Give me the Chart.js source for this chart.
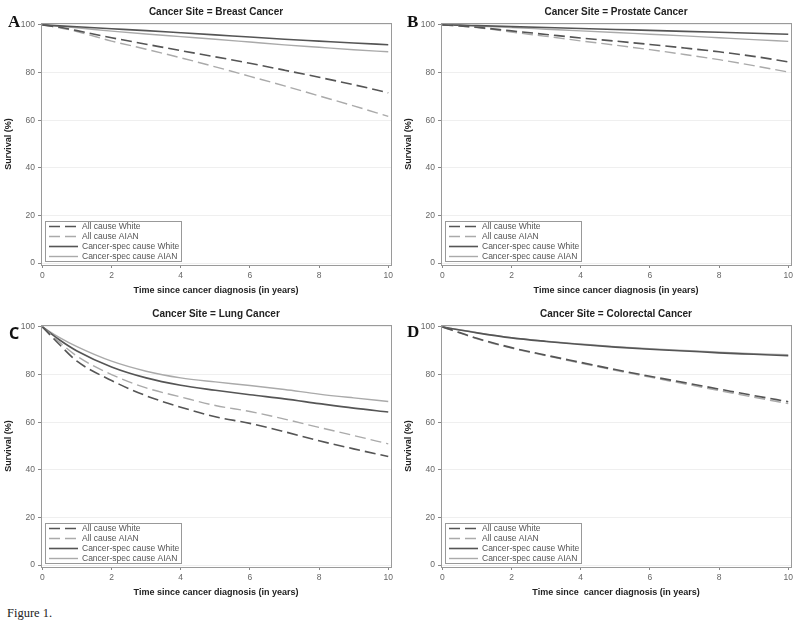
<!DOCTYPE html>
<html>
<head>
<meta charset="utf-8">
<title>Figure 1</title>
<script src="https://cdn.jsdelivr.net/npm/chart.js@4.4.1/dist/chart.umd.min.js"></script>
<style>
  html, body { margin: 0; padding: 0; background: #fff; }
  #page { position: relative; width: 800px; height: 622px; overflow: hidden; }
  .panel { position: absolute; width: 400px; height: 300px; }
  .panel canvas { display: block; }
  #caption { position: absolute; left: 7px; top: 606px; font-family: 'Liberation Serif', serif; font-size: 12.5px; line-height: 14px; color: #222; }
</style>
</head>
<body>
<div id="page">
  <div class="panel" style="left:0;top:0"><canvas id="chartA" width="400" height="300"></canvas></div>
  <div class="panel" style="left:400px;top:0"><canvas id="chartB" width="400" height="300"></canvas></div>
  <div class="panel" style="left:0;top:302px"><canvas id="chartC" width="400" height="300"></canvas></div>
  <div class="panel" style="left:400px;top:302px"><canvas id="chartD" width="400" height="300"></canvas></div>
  <div id="caption">Figure 1.</div>
</div>
<script>
// years since diagnosis (shared by all panels)
const years = [0, 0.5, 1, 2, 3, 4, 5, 6, 7, 8, 9, 10]
const xTicks = [0, 2, 4, 6, 8, 10]
const yTicks = [0, 20, 40, 60, 80, 100]
const seriesLabels = ['All cause White', 'All cause AIAN', 'Cancer-spec cause White', 'Cancer-spec cause AIAN']

// A - breast
const breastAllWhite  = [100, 99.0, 97.6, 94.6, 91.9, 89.2, 86.6, 83.9, 81.0, 78.0, 74.9, 71.5]
const breastAllAian   = [100, 98.8, 97.2, 93.2, 89.8, 86.2, 82.4, 78.4, 74.4, 70.2, 66.0, 61.6]
const breastSpecWhite = [100, 99.6, 99.2, 98.4, 97.6, 96.7, 95.8, 94.9, 94.0, 93.2, 92.4, 91.7]
const breastSpecAian  = [100, 99.4, 98.8, 97.4, 96.2, 95.1, 94.0, 92.8, 91.6, 90.6, 89.6, 88.7]

// B - prostate
const prostateAllWhite  = [100, 99.6, 99.0, 97.5, 96.0, 94.5, 93.2, 91.8, 90.3, 88.7, 86.8, 84.5]
const prostateAllAian   = [100, 99.5, 98.9, 97.0, 95.2, 93.3, 91.5, 89.6, 87.6, 85.4, 82.9, 80.2]
const prostateSpecWhite = [100, 99.9, 99.7, 99.3, 98.9, 98.5, 98.1, 97.7, 97.3, 96.9, 96.5, 96.1]
const prostateSpecAian  = [100, 99.8, 99.5, 98.9, 98.2, 97.5, 96.8, 96.1, 95.4, 94.6, 93.8, 93.1]

// C - lung
const lungAllWhite  = [100, 92.5, 85.6, 77.5, 71.1, 66.3, 62.3, 59.5, 56.0, 52.2, 48.8, 45.6]
const lungAllAian   = [100, 93.5, 87.7, 80.0, 74.4, 70.6, 67.0, 64.5, 61.3, 57.8, 54.4, 50.9]
const lungSpecWhite = [100, 94.5, 89.9, 83.2, 78.6, 75.5, 73.4, 71.5, 69.8, 67.8, 65.9, 64.3]
const lungSpecAian  = [100, 95.5, 91.7, 85.6, 81.4, 78.6, 76.9, 75.4, 73.7, 71.8, 70.2, 68.7]

// D - colorectal
const colorectalAllWhite  = [100, 97.6, 95.2, 91.3, 88.1, 85.1, 82.1, 79.3, 76.6, 73.9, 71.2, 68.6]
const colorectalAllAian   = [100, 97.5, 95.0, 91.1, 87.9, 84.8, 81.8, 78.9, 76.1, 73.3, 70.5, 67.8]
const colorectalSpecWhite = [100, 98.7, 97.5, 95.4, 93.9, 92.6, 91.5, 90.6, 89.9, 89.1, 88.5, 87.9]
const colorectalSpecAian  = [100, 98.8, 97.6, 95.5, 94.0, 92.8, 91.7, 90.8, 90.1, 89.4, 88.8, 88.3]

const seriesStyle = [
  { color: '#555', dash: [11, 5], width: 1.6 },
  { color: '#aaa', dash: [11, 5], width: 1.4 },
  { color: '#555', dash: [], width: 1.6 },
  { color: '#aaa', dash: [], width: 1.4 }
]

Chart.defaults.font.family = "'Liberation Sans', Arial, sans-serif"

/* draws frame, title, letter and the boxed legend inside the plot */
function panelPlugin(letter, letterFont, letterX, letterY, title) {
  return {
    id: 'panel',
    afterDraw(chart) {
      const ctx = chart.ctx
      const a = chart.chartArea
      ctx.save()
      // frame
      ctx.strokeStyle = '#9a9a9a'
      ctx.lineWidth = 1
      ctx.strokeRect(Math.round(a.left) + 0.5, Math.round(a.top) + 0.5, Math.round(a.right - a.left), Math.round(a.bottom - a.top))

      // title
      ctx.fillStyle = '#222'
      ctx.font = "bold 10px 'Liberation Sans', Arial, sans-serif"
      ctx.textAlign = 'center'
      ctx.textBaseline = 'middle'
      ctx.fillText(title, (a.left + a.right) / 2, 12)

      // panel letter
      ctx.fillStyle = '#111'
      ctx.font = letterFont
      ctx.textAlign = 'left'
      ctx.textBaseline = 'alphabetic'
      ctx.fillText(letter, letterX, letterY)

      // legend
      const rowH = 10
      const boxW = 136
      const lx = Math.round(a.left) + 4
      const ly = Math.round(a.bottom) - 4 - 4 * rowH
      ctx.strokeStyle = '#999'
      ctx.lineWidth = 1
      ctx.strokeRect(lx + 0.5, ly + 0.5, boxW, 4 * rowH)
      chart.data.datasets.forEach((ds, i) => {
        const cy = ly + rowH * i + rowH / 2 + 0.5
        ctx.setLineDash(ds.borderDash)
        ctx.strokeStyle = ds.borderColor
        ctx.lineWidth = ds.borderWidth
        ctx.beginPath()
        ctx.moveTo(lx + 4, cy)
        ctx.lineTo(lx + 33, cy)
        ctx.stroke()
        ctx.setLineDash([])
        ctx.fillStyle = '#555'
        ctx.font = "8.5px 'Liberation Sans', Arial, sans-serif"
        ctx.textAlign = 'left'
        ctx.textBaseline = 'middle'
        ctx.fillText(ds.label, lx + 37, cy)
      })
      ctx.restore()
    }
  }
}

function drawPanel(id, letter, letterFont, letterX, letterY, title, xTitle, series) {
  return new Chart(document.getElementById(id), {
    type: 'line',
    data: {
      datasets: series.map((vals, k) => ({
        label: seriesLabels[k],
        data: years.map((x, i) => ({ x: x, y: vals[i] })),
        borderColor: seriesStyle[k].color,
        borderDash: seriesStyle[k].dash,
        borderWidth: seriesStyle[k].width,
        pointRadius: 0,
        fill: false,
        cubicInterpolationMode: 'monotone'
      }))
    },
    options: {
      responsive: false,
      animation: false,
      layout: { padding: { top: 23, right: 9, bottom: 0, left: 0 } },
      plugins: {
        legend: { display: false },
        tooltip: { enabled: false }
      },
      scales: {
        x: {
          type: 'linear',
          min: -0.04,
          max: 10.08,
          afterBuildTicks: s => { s.ticks = xTicks.map(v => ({ value: v })) },
          afterFit: s => { s.height = 35 },
          grid: { drawOnChartArea: false, tickLength: 3, tickColor: '#888' },
          border: { display: false },
          ticks: { color: '#666', font: { size: 8.5 }, padding: 3, maxRotation: 0, autoSkip: false },
          title: { display: true, text: xTitle, color: '#222', font: { size: 9, weight: 'bold' }, padding: 4 }
        },
        y: {
          min: -0.8,
          max: 100.8,
          afterBuildTicks: s => { s.ticks = yTicks.map(v => ({ value: v })) },
          afterFit: s => { s.width = 41 },
          grid: { color: '#efefef', tickLength: 3, tickColor: '#888' },
          border: { display: false },
          ticks: { color: '#666', font: { size: 8.5 }, padding: 3, autoSkip: false },
          title: { display: true, text: 'Survival (%)', color: '#222', font: { size: 9, weight: 'bold' }, padding: 3 }
        }
      }
    },
    plugins: [panelPlugin(letter, letterFont, letterX, letterY, title)]
  })
}

const serifBold = "bold 17px 'Liberation Serif', serif"
const xTitle = 'Time since cancer diagnosis (in years)'

drawPanel('chartA', 'A', serifBold, 8, 27, 'Cancer Site = Breast Cancer', xTitle,
  [breastAllWhite, breastAllAian, breastSpecWhite, breastSpecAian])
drawPanel('chartB', 'B', serifBold, 7, 27, 'Cancer Site = Prostate Cancer', xTitle,
  [prostateAllWhite, prostateAllAian, prostateSpecWhite, prostateSpecAian])
drawPanel('chartC', 'C', "bold 16px 'Noto Sans', sans-serif", 9, 37, 'Cancer Site = Lung Cancer', xTitle,
  [lungAllWhite, lungAllAian, lungSpecWhite, lungSpecAian])
drawPanel('chartD', 'D', serifBold, 7, 35, 'Cancer Site = Colorectal Cancer', 'Time since  cancer diagnosis (in years)',
  [colorectalAllWhite, colorectalAllAian, colorectalSpecWhite, colorectalSpecAian])
</script>
</body>
</html>
